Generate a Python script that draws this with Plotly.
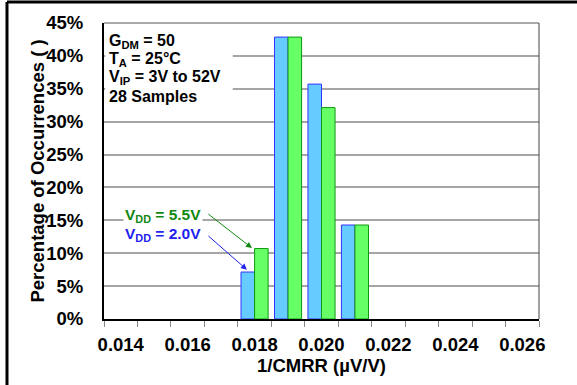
import plotly.graph_objects as go

# Data
bins = [0.018, 0.019, 0.020, 0.021]
vdd_20 = [7.14, 42.86, 35.71, 14.29]   # VDD = 2.0V (%)
vdd_55 = [10.71, 42.86, 32.14, 14.29]  # VDD = 5.5V (%)
x_tick_vals = [0.014, 0.016, 0.018, 0.020, 0.022, 0.024, 0.026]
x_tick_text = ["0.014", "0.016", "0.018", "0.020", "0.022", "0.024", "0.026"]
cond_lines = ["G<sub>DM</sub> = 50", "T<sub>A</sub> = 25°C",
              "V<sub>IP</sub> = 3V to 52V", "28 Samples"]

FONT = "Liberation Sans, Arial, sans-serif"

fig = go.Figure()
fig.add_trace(go.Bar(x=bins, y=vdd_20, name="VDD = 2.0V",
                     marker=dict(color="#66ccff", line=dict(color="#3333ff", width=1))))
fig.add_trace(go.Bar(x=bins, y=vdd_55, name="VDD = 5.5V",
                     marker=dict(color="#66ff66", line=dict(color="#119911", width=1))))

fig.update_layout(
    width=577, height=385,
    margin=dict(l=104, r=38, t=23, b=66),
    paper_bgcolor="white", plot_bgcolor="white",
    barmode="group", bargap=0.19, bargroupgap=0,
    showlegend=False,
    font=dict(family=FONT, color="black"),
)

fig.update_xaxes(
    range=[0.0135, 0.0265],
    tickmode="array", tickvals=x_tick_vals, ticktext=x_tick_text,
    ticks="", showgrid=False, zeroline=False,
    showline=True, linecolor="black", linewidth=2,
    tickfont=dict(size=18.5, weight="bold"),
    ticklabelstandoff=8,
    minor=dict(ticks="outside", tick0=0.0135, dtick=0.001, ticklen=6,
               tickcolor="#888888", tickwidth=1, showgrid=False),
    title=dict(text="1/CMRR (µV/V)", font=dict(size=18.5, weight="bold"), standoff=0),
)
fig.update_yaxes(
    range=[0, 45], dtick=5, ticksuffix="%",
    ticks="", showgrid=True, gridcolor="#a6a6a6", gridwidth=1.5,
    zeroline=False,
    showline=True, linecolor="black", linewidth=2,
    tickfont=dict(size=18.5, weight="bold"),
    ticklabelstandoff=15,
)

# y-axis title (placed as rotated text to match reference position)
fig.add_annotation(xref="paper", yref="paper", x=-0.155, y=0.5,
                   xanchor="center", yanchor="middle", textangle=-90,
                   text="Percentage of Occurrences ( )", showarrow=False,
                   font=dict(size=18.5, weight="bold", color="black"))

# plot border (top and right) and outer frame (left & top visible)
fig.add_shape(type="line", xref="paper", yref="paper", x0=0, x1=1, y0=1, y1=1,
              line=dict(color="#555555", width=1))
fig.add_shape(type="line", xref="paper", yref="paper", x0=1, x1=1, y0=0, y1=1,
              line=dict(color="#444444", width=1))
fig.add_shape(type="line", xref="paper", yref="paper", x0=-0.223, x1=1.2, y0=1.071, y1=1.071,
              line=dict(color="black", width=3), layer="above")
fig.add_shape(type="line", xref="paper", yref="paper", x0=-0.223, x1=-0.223, y0=-0.4, y1=1.071,
              line=dict(color="black", width=3), layer="above")

# white backing for conditions text
fig.add_shape(type="rect", xref="paper", yref="paper",
              x0=0.003, x1=0.296, y0=0.725, y1=0.97,
              fillcolor="white", line=dict(width=0), layer="above")

# conditions text lines
cond_y = [0.937, 0.876, 0.815, 0.753]
for txt, yy in zip(cond_lines, cond_y):
    fig.add_annotation(
        xref="paper", yref="paper", x=0.008, y=yy, xanchor="left", yanchor="middle",
        text=txt, showarrow=False, align="left",
        font=dict(size=16, weight="bold", color="black"),
    )

# series labels
fig.add_annotation(x=0.01647, y=15.8, xanchor="right", yanchor="middle",
                   text="V<sub>DD</sub> = 5.5V", showarrow=False, bgcolor="white",
                   font=dict(size=15.5, weight="bold", color="#118811"))
fig.add_annotation(x=0.01647, y=12.8, xanchor="right", yanchor="middle",
                   text="V<sub>DD</sub> = 2.0V", showarrow=False,
                   font=dict(size=15.5, weight="bold", color="#2222ee"))
# arrows
fig.add_annotation(x=0.01792, y=10.8, ax=-45, ay=-35, text="", showarrow=True,
                   arrowhead=2, arrowsize=1.2, arrowwidth=1, arrowcolor="#118811")
fig.add_annotation(x=0.01777, y=7.5, ax=-40, ay=-35, text="", showarrow=True,
                   arrowhead=2, arrowsize=1.2, arrowwidth=1, arrowcolor="#2222ee")

fig.write_html("out.html", config={"displayModeBar": False},
               post_script="document.body.style.margin='0';document.body.style.overflow='hidden';")
